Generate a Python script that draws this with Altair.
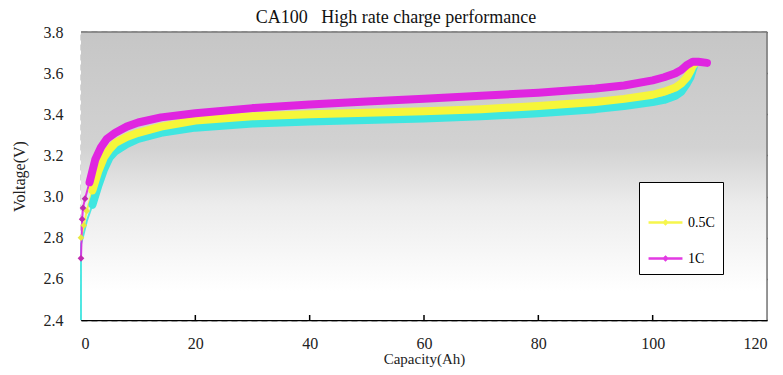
import altair as alt
import pandas as pd

series_names = ["0.2C", "0.5C", "1C"]
series_colors = ["#3fe6e0", "#f6f63a", "#e025e0"]

cap_02c = [0, 0, 0.3, 1, 2, 3, 4, 5, 6, 8, 10, 14, 20, 30, 40, 50, 60, 70, 80, 90, 95, 100, 102, 104, 105, 106, 106.6, 107, 107.3]
v_02c = [2.40, 2.77, 2.80, 2.88, 2.96, 3.05, 3.13, 3.19, 3.22, 3.255, 3.28, 3.31, 3.335, 3.355, 3.365, 3.372, 3.38, 3.39, 3.405, 3.425, 3.44, 3.46, 3.47, 3.49, 3.51, 3.55, 3.58, 3.615, 3.64]

cap_05c = [0, 0.5, 1, 2, 3, 4, 5, 6, 8, 10, 14, 20, 30, 40, 50, 60, 70, 80, 90, 95, 100, 102, 104, 105, 106, 106.6, 107, 107.5]
v_05c = [2.80, 2.86, 2.93, 3.03, 3.12, 3.19, 3.23, 3.26, 3.29, 3.31, 3.34, 3.37, 3.39, 3.40, 3.408, 3.415, 3.425, 3.44, 3.46, 3.475, 3.495, 3.51, 3.53, 3.55, 3.58, 3.61, 3.635, 3.65]

cap_1c = [0, 0.2, 0.35, 0.7, 1.5, 2.5, 3.5, 4.5, 6, 8, 10, 14, 20, 30, 40, 50, 60, 70, 80, 90, 95, 100, 102, 104, 105, 106, 107, 108, 109.5]
v_1c = [2.70, 2.89, 2.945, 2.99, 3.07, 3.18, 3.24, 3.28, 3.31, 3.34, 3.36, 3.385, 3.405, 3.43, 3.448, 3.462, 3.475, 3.49, 3.505, 3.525, 3.54, 3.565, 3.58, 3.60, 3.615, 3.64, 3.655, 3.655, 3.65]

x_ticks = [0, 20, 40, 60, 80, 100, 120]
y_ticks = [2.4, 2.6, 2.8, 3.0, 3.2, 3.4, 3.6, 3.8]

rows = []
for name, caps, vs in zip(series_names, [cap_02c, cap_05c, cap_1c], [v_02c, v_05c, v_1c]):
    for i, (c, v) in enumerate(zip(caps, vs)):
        rows.append({"series": name, "cap": c, "volt": v, "idx": i})
df = pd.DataFrame(rows)
ticks_df = pd.DataFrame({"cap": x_ticks[1:-1]})

W, H = 686, 288
serif = "Liberation Serif"

xs = alt.Scale(domain=[0, 120], nice=False)
ys = alt.Scale(domain=[2.4, 3.8], nice=False, zero=False)

color = alt.Color(
    "series:N",
    scale=alt.Scale(domain=series_names, range=series_colors),
    legend=alt.Legend(
        values=["0.5C", "1C"], title=" ", titleFontSize=14, titlePadding=0,
        orient="none", legendX=558, legendY=150,
        fillColor="white", strokeColor="black", padding=8, rowPadding=10,
        symbolType="M-1,0L1,0M0,-0.09L0.09,0L0,0.09L-0.09,0Z", symbolSize=1150,
        symbolStrokeWidth=2.5, labelFont=serif, labelFontSize=14, labelColor="black",
        labelOffset=4,
    ),
)

bg = alt.Chart(pd.DataFrame({"k": [0]})).mark_rect(
    color=alt.LinearGradient(
        gradient="linear", x1=0, x2=0, y1=0, y2=1,
        stops=[
            alt.GradientStop(color="#c6c6c6", offset=0),
            alt.GradientStop(color="#d2d2d2", offset=0.4),
            alt.GradientStop(color="#ececec", offset=0.6),
            alt.GradientStop(color="#ffffff", offset=0.9),
            alt.GradientStop(color="#ffffff", offset=1),
        ],
    )
).encode(x=alt.value(0), x2=alt.value(W), y=alt.value(0), y2=alt.value(H))

base = alt.Chart(df)

thin = base.mark_line(strokeWidth=2, opacity=0.9).encode(
    x=alt.X("cap:Q", scale=xs, axis=alt.Axis(
        values=x_ticks, title="Capacity(Ah)", grid=False, domainColor="black",
        domainWidth=1.5, ticks=False, labelFont=serif, labelFontSize=16,
        labelColor="#222", labelPadding=15, titleFont=serif, titleFontSize=15,
        titleFontWeight="normal", titleColor="#222", titlePadding=0)),
    y=alt.Y("volt:Q", scale=ys, axis=alt.Axis(
        values=y_ticks, format=".1f", title="Voltage(V)", grid=True, gridColor="black",
        gridDash=[6, 4], gridWidth=1.3, domainColor="black", domainDash=[6, 4],
        domainWidth=1.3, ticks=False, labelFont=serif, labelFontSize=16,
        labelColor="#222", labelPadding=18, titleFont=serif, titleFontSize=16,
        titleFontWeight="normal", titleColor="#222", titlePadding=16)),
    color=color,
    order="idx:Q",
)

thick = base.mark_line(strokeWidth=8, strokeCap="round", strokeJoin="round").encode(
    x=alt.X("cap:Q", scale=xs),
    y=alt.Y("volt:Q", scale=ys),
    color=alt.Color("series:N", scale=alt.Scale(domain=series_names, range=series_colors), legend=None),
    order="idx:Q",
).transform_filter("datum.cap >= 1.5")

pts = base.mark_point(shape="diamond", filled=True, size=45, opacity=1).encode(
    x=alt.X("cap:Q", scale=xs),
    y=alt.Y("volt:Q", scale=ys),
    color=alt.Color("series:N", scale=alt.Scale(domain=series_names, range=["#3fe6e0", "#e8e840", "#c02ab0"]), legend=None),
).transform_filter("datum.cap < 1.5 && datum.series != '0.2C'")

xticks = alt.Chart(ticks_df).mark_rule(color="black", strokeWidth=1.5).encode(
    x=alt.X("cap:Q", scale=xs),
    y=alt.value(H),
    y2=alt.value(H - 5),
)

frame = alt.Chart(pd.DataFrame({"k": [0]})).mark_rule(color="#777", strokeWidth=1.5).encode(
    x=alt.value(W), y=alt.value(0), y2=alt.value(H)
)
frame_top = alt.Chart(pd.DataFrame({"k": [0]})).mark_rule(color="#777", strokeWidth=1.5).encode(
    x=alt.value(0), x2=alt.value(W), y=alt.value(0)
)

chart = alt.layer(bg, thin, thick, pts, xticks, frame, frame_top).properties(
    width=W, height=H,
    autosize=alt.AutoSizeParams(type="none"),
    padding={"left": 73, "top": 24, "right": 8, "bottom": 47},
    title=alt.TitleParams(
        "CA100\u00a0\u00a0\u00a0High rate charge performance", font=serif, fontSize=18,
        fontWeight="normal", color="#111", offset=-3, dx=-28, anchor="middle",
    ),
).resolve_scale(color="independent").configure_view(
    stroke=None,
).configure(background="white")

chart.save("out.html", embed_options={"renderer": "svg", "actions": False})
